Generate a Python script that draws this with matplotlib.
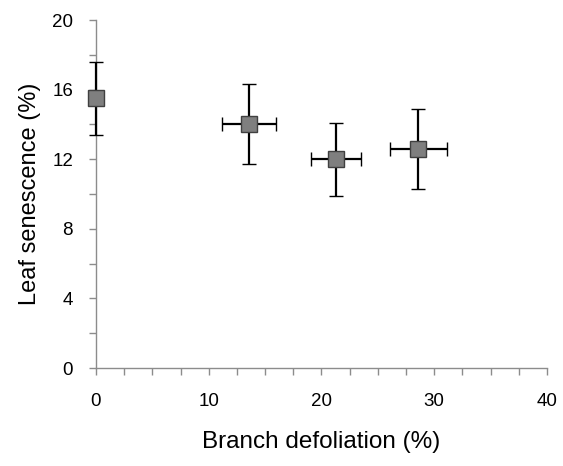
import matplotlib.pyplot as plt
from matplotlib.ticker import MultipleLocator

plt.rcParams['font.family'] = ['Liberation Sans', 'DejaVu Sans']

# data
defoliation = [0.0, 13.6, 21.3, 28.6]
defoliation_err = [0.0, 2.4, 2.2, 2.5]
senescence = [15.5, 14.0, 12.0, 12.6]
senescence_err = [2.1, 2.3, 2.1, 2.3]

fig = plt.figure(figsize=(5.63, 4.66), dpi=100)
ax = fig.add_axes([0.1705, 0.2103, 0.801, 0.7467])

ax.errorbar(defoliation, senescence, xerr=defoliation_err, yerr=senescence_err,
            fmt='s', ms=11.5, mfc='#7f7f7f', mec='#404040', mew=1.0,
            ecolor='black', elinewidth=1.6, capsize=5, capthick=1.6, zorder=3)

ax.set_xlim(0, 40)
ax.set_ylim(0, 20)
ax.xaxis.set_major_locator(MultipleLocator(10))
ax.xaxis.set_minor_locator(MultipleLocator(2.5))
ax.yaxis.set_major_locator(MultipleLocator(4))
ax.yaxis.set_minor_locator(MultipleLocator(2))

for side in ['top', 'right']:
    ax.spines[side].set_visible(False)
for side in ['left', 'bottom']:
    ax.spines[side].set_color('#8c8c8c')
    ax.spines[side].set_linewidth(1.0)

ax.tick_params(axis='both', which='both', direction='out', length=5,
               color='#8c8c8c', width=1.0, labelsize=13.5)
ax.tick_params(axis='x', which='major', pad=13)
ax.tick_params(axis='y', which='major', pad=11.5)
for e in ax.get_children():
    e.set_clip_on(False)

ax.set_xlabel('Branch defoliation (%)', fontsize=17.5, labelpad=15)
ax.set_ylabel('Leaf senescence (%)', fontsize=17, labelpad=8)

fig.savefig('out.png', dpi=100, facecolor='white')
